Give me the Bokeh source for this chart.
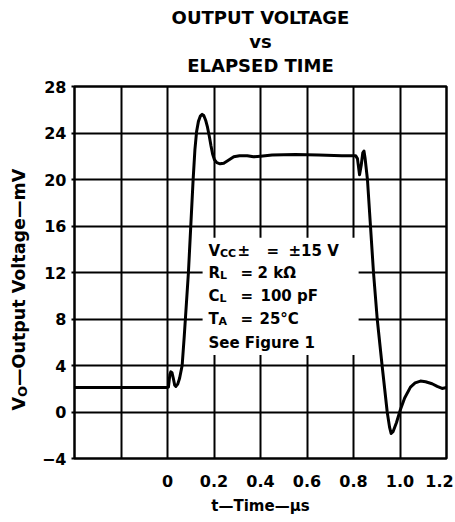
import math
from bokeh.plotting import figure
from bokeh.layouts import row, column
from bokeh.models import FixedTicker, Label, Range1d
from bokeh.embed import file_html
from bokeh.resources import INLINE

# ---------------- data ----------------
TITLE_LINES = ["OUTPUT VOLTAGE", "vs", "ELAPSED TIME"]
X_LABEL = "t\u2014Time\u2014\u00b5s"
Y_LABEL_MAIN = "V"
Y_LABEL_SUB = "O"
Y_LABEL_REST = "\u2014Output Voltage\u2014mV"

X_TICKS = [0.0, 0.2, 0.4, 0.6, 0.8, 1.0, 1.2]
X_TICK_LABELS = ["0", "0.2", "0.4", "0.6", "0.8", "1.0", "1.2"]
X_GRID = [-0.2, 0.0, 0.2, 0.4, 0.6, 0.8, 1.0]
Y_TICKS = [-4, 0, 4, 8, 12, 16, 20, 24, 28]
Y_TICK_LABELS = ["\u22124", "0", "4", "8", "12", "16", "20", "24", "28"]
Y_GRID = [0, 4, 8, 12, 16, 20, 24]

t_us = [-0.4, -0.2, 0.0, 0.004, 0.010, 0.014, 0.019, 0.025, 0.031, 0.036, 0.044,
        0.052, 0.063, 0.072, 0.090, 0.110, 0.118, 0.125, 0.133, 0.141, 0.149,
        0.156, 0.164, 0.172, 0.180, 0.187, 0.194, 0.202, 0.212, 0.226, 0.242,
        0.262, 0.285, 0.310, 0.343, 0.370, 0.400, 0.450, 0.550, 0.650, 0.750,
        0.809, 0.817, 0.826, 0.833, 0.840, 0.845, 0.850, 0.860, 0.873, 0.886,
        0.902, 0.923, 0.945, 0.955, 0.962, 0.970, 0.985, 1.000, 1.020, 1.045,
        1.065, 1.088, 1.110, 1.138, 1.160, 1.181, 1.200]
v_mv = [2.1, 2.1, 2.1, 2.15, 3.2, 3.45, 3.4, 2.9, 2.3, 2.2, 2.4,
        2.9, 4.0, 6.5, 12.0, 19.9, 22.6, 24.1, 25.0, 25.45, 25.6,
        25.5, 25.1, 24.5, 23.7, 22.9, 22.2, 21.7, 21.45, 21.35, 21.4,
        21.65, 21.95, 22.05, 22.05, 21.95, 22.0, 22.1, 22.15, 22.1, 22.05,
        22.05, 21.8, 20.4, 21.2, 22.3, 22.45, 21.8, 20.0, 16.0, 12.0,
        8.0, 4.0, 0.0, -1.3, -1.85, -1.7, -0.9, 0.1, 1.2, 2.14,
        2.5, 2.66, 2.6, 2.43, 2.2, 2.03, 2.1]

# conditions printed inside the chart: (text, size, is_subscript, page-x start)
COND_LINES = [
    [("V", 15, False, 208), ("CC", 11, True, 219.5), ("\u00b1", 15, False, 237),
     ("=", 15, False, 266), ("\u00b115 V", 15, False, 288)],
    [("R", 15, False, 208), ("L", 11, True, 219.5), ("=", 15, False, 240),
     ("2 k\u03a9", 15, False, 257)],
    [("C", 15, False, 208), ("L", 11, True, 219), ("=", 15, False, 240),
     ("100 pF", 15, False, 260)],
    [("T", 15, False, 208), ("A", 11, True, 218), ("=", 15, False, 240),
     ("25\u00b0C", 15, False, 259)],
    [("See Figure 1", 15, False, 208)],
]
COND_BASELINES = [255, 277, 300, 323, 347]   # page y of each text baseline
MASK_X = [0.151, 0.822]   # area of the grid left blank behind the conditions
MASK_Y = [4.9, 15.0]

# ---------------- geometry ----------------
PAGE_W, PAGE_H = 455, 522
TH = 76                    # height of the title strip
LW = 34                    # width of the strip holding the y title
W, H = PAGE_W - LW, PAGE_H - TH
BL, BR, BT, BB = 40, 9, 10, 64
X0, X1, Y0, Y1 = -0.4, 1.2, -4, 28
PXX = (W - BL - BR) / (X1 - X0)
PXY = (H - BT - BB) / (Y1 - Y0)
FRAME_TOP = TH + BT
BASE_FIX = 5               # rendered alphabetic baselines sit ~5px low


def px2x(px):   # page x -> data x
    return X0 + (px - LW - BL) / PXX


def py2y(py):   # page y -> data y
    return Y1 - (py - FRAME_TOP) / PXY


FONT = "DejaVu Sans"


def strip(w, h):
    f = figure(width=w, height=h, frame_width=w, frame_height=h,
               output_backend="svg", toolbar_location=None,
               x_range=Range1d(0, w), y_range=Range1d(0, h),
               x_axis_type=None, y_axis_type=None,
               min_border=0, min_border_left=0, min_border_right=0,
               min_border_top=0, min_border_bottom=0,
               background_fill_color="white", border_fill_color="white",
               outline_line_color=None, title_location=None)
    f.grid.visible = False
    return f


# ---- title strip ----
top = strip(PAGE_W, TH)
title_center_x = LW + BL + (W - BL - BR) / 2
title_baselines = [22, 46, 70]
for text, base in zip(TITLE_LINES, title_baselines):
    top.add_layout(Label(x=title_center_x, y=TH - (base - BASE_FIX), text=text,
                         text_font=FONT, text_font_style="bold",
                         text_font_size="18px", text_color="black",
                         text_align="center", text_baseline="alphabetic"))

# ---- main plot ----
p = figure(width=W, height=H, output_backend="svg", toolbar_location=None,
           x_range=Range1d(X0, X1), y_range=Range1d(Y0, Y1),
           min_border_left=BL, min_border_right=BR, min_border_top=BT,
           min_border_bottom=BB, background_fill_color="white",
           border_fill_color="white", title_location=None)

p.outline_line_color = "black"
p.outline_line_width = 2.5
p.outline_line_alpha = 1

# x axis
xa = p.xaxis[0]
label_pos = X_TICKS[:-1] + [X_TICKS[-1] - 0.03]
xa.ticker = FixedTicker(ticks=label_pos)
xa.major_label_overrides = {pos: lab for pos, lab in zip(label_pos, X_TICK_LABELS)}
xa.major_tick_out = 0
xa.major_tick_in = 0
xa.minor_tick_out = 0
xa.minor_tick_in = 0
xa.axis_line_color = None
xa.major_label_standoff = 16
xa.major_label_text_font = FONT
xa.major_label_text_font_style = "bold"
xa.major_label_text_font_size = "16px"
xa.major_label_text_color = "black"
xa.axis_label = X_LABEL
xa.axis_label_text_font = FONT
xa.axis_label_text_font_style = "bold"
xa.axis_label_text_font_size = "15px"
xa.axis_label_text_color = "black"
xa.axis_label_standoff = 7

# y axis
ya = p.yaxis[0]
ya.ticker = FixedTicker(ticks=Y_TICKS)
ya.major_label_overrides = {t: lab for t, lab in zip(Y_TICKS, Y_TICK_LABELS)}
ya.major_tick_out = 3
ya.major_tick_in = 0
ya.major_tick_line_width = 2
ya.major_tick_line_color = "black"
ya.minor_tick_out = 0
ya.minor_tick_in = 0
ya.axis_line_color = None
ya.major_label_standoff = 5
ya.major_label_text_font = FONT
ya.major_label_text_font_style = "bold"
ya.major_label_text_font_size = "16px"
ya.major_label_text_color = "black"

# grid
p.xgrid.ticker = FixedTicker(ticks=X_GRID)
p.ygrid.ticker = FixedTicker(ticks=Y_GRID)
for g in (p.xgrid[0], p.ygrid[0]):
    g.grid_line_color = "black"
    g.grid_line_width = 2
    g.grid_line_alpha = 1

# blank area behind the conditions text
p.quad(left=[MASK_X[0]], right=[MASK_X[1]], bottom=[MASK_Y[0]], top=[MASK_Y[1]],
       fill_color="white", line_color=None)

# the trace
p.line(t_us, v_mv, line_color="black", line_width=3, line_join="round",
       line_cap="round")

# conditions text
for pieces, base in zip(COND_LINES, COND_BASELINES):
    for text, size, sub, xpx in pieces:
        yb = base - BASE_FIX + (3 if sub else 0)
        p.add_layout(Label(x=px2x(xpx), y=py2y(yb), text=text,
                           text_font=FONT, text_font_style="bold",
                           text_font_size=f"{size}px", text_color="black",
                           text_align="left", text_baseline="alphabetic"))

# ---- strip on the left holding the rotated y title (with subscript) ----
q = strip(LW, H)


def qy(py):     # page y -> strip data y
    return H - (py - TH)


ylab_base_px = 18
start_py = 400
main_size, sub_size = 17.5, 13
v_len = 0.774 * main_size
o_len = 0.85 * sub_size
q.add_layout(Label(x=ylab_base_px, y=qy(start_py), text=Y_LABEL_MAIN,
                   angle=math.pi / 2, text_font=FONT, text_font_style="bold",
                   text_font_size=f"{main_size}px", text_align="left",
                   text_color="black", text_baseline="alphabetic"))
q.add_layout(Label(x=ylab_base_px + 3.5, y=qy(start_py - v_len), text=Y_LABEL_SUB,
                   angle=math.pi / 2, text_font=FONT, text_font_style="bold",
                   text_font_size=f"{sub_size}px", text_align="left",
                   text_color="black", text_baseline="alphabetic"))
q.add_layout(Label(x=ylab_base_px, y=qy(start_py - v_len - o_len), text=Y_LABEL_REST,
                   angle=math.pi / 2, text_font=FONT, text_font_style="bold",
                   text_font_size=f"{main_size}px", text_align="left",
                   text_color="black", text_baseline="alphabetic"))

layout = column(top, row(q, p, spacing=0), spacing=0)
open("out.html", "w").write(file_html(layout, INLINE))
